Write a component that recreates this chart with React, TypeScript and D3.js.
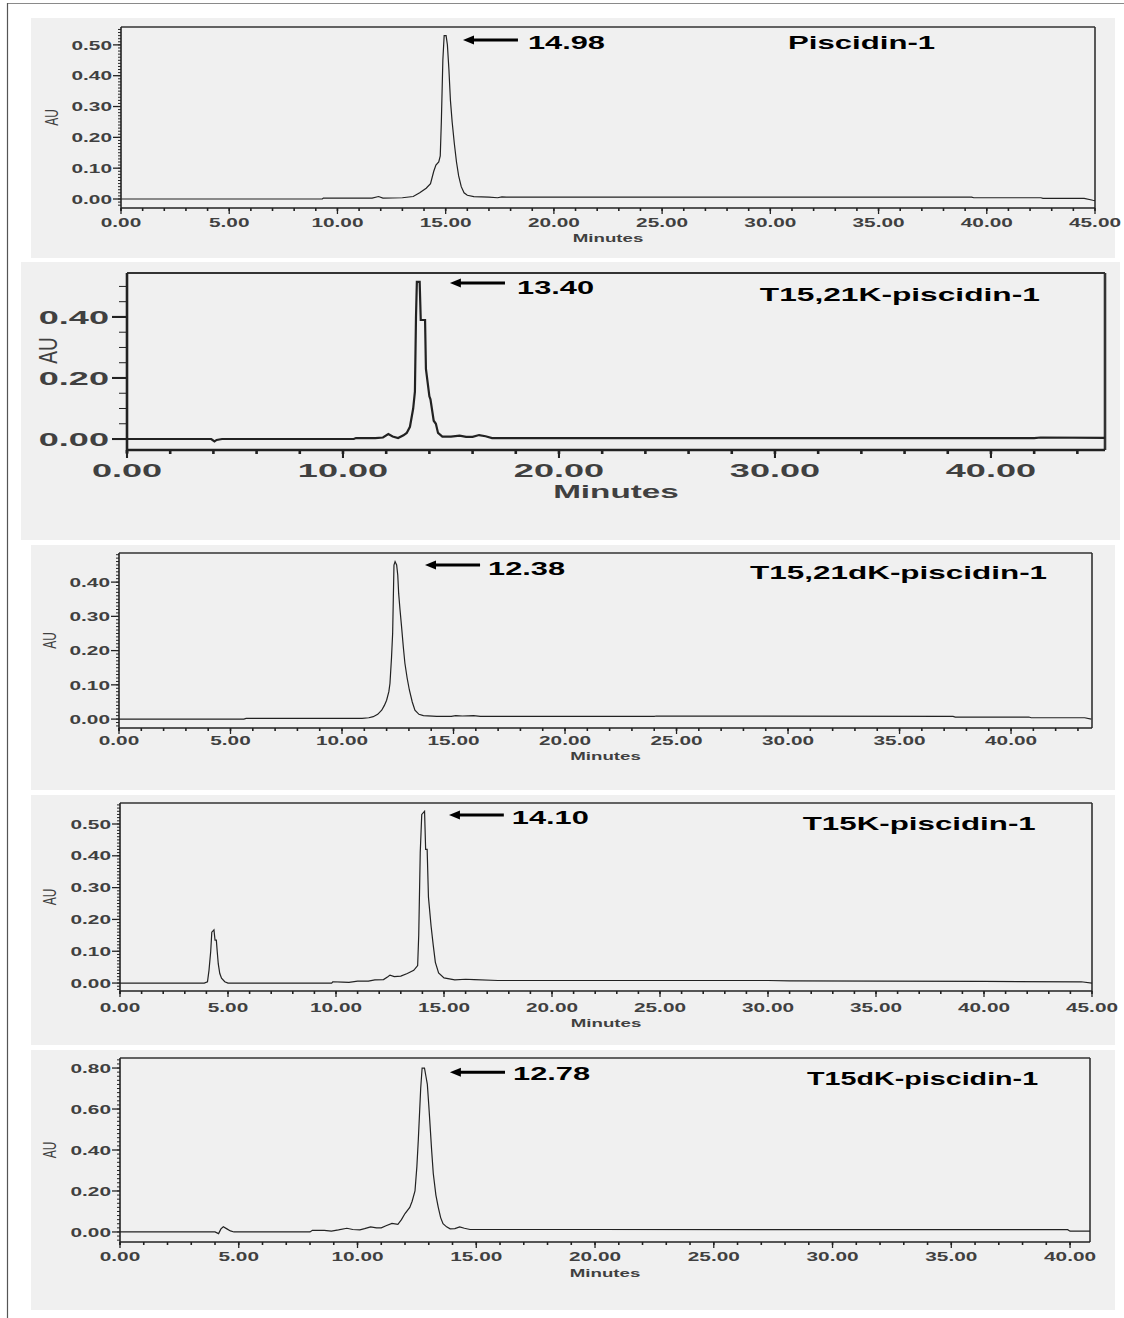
import React from "react";
import * as d3 from "d3";

type Pt = [number, number];

const titles = ["Piscidin-1", "T15,21K-piscidin-1", "T15,21dK-piscidin-1", "T15K-piscidin-1", "T15dK-piscidin-1"];
const retentionTimes = ["14.98", "13.40", "12.38", "14.10", "12.78"];
const peakTimes = [14.98, 13.40, 12.38, 14.10, 12.78];

const xTickLabels: number[][] = [
  [0, 5, 10, 15, 20, 25, 30, 35, 40, 45],
  [0, 10, 20, 30, 40],
  [0, 5, 10, 15, 20, 25, 30, 35, 40],
  [0, 5, 10, 15, 20, 25, 30, 35, 40, 45],
  [0, 5, 10, 15, 20, 25, 30, 35, 40],
];
const yTickLabels: number[][] = [
  [0, 0.1, 0.2, 0.3, 0.4, 0.5],
  [0, 0.2, 0.4],
  [0, 0.1, 0.2, 0.3, 0.4],
  [0, 0.1, 0.2, 0.3, 0.4, 0.5],
  [0, 0.2, 0.4, 0.6, 0.8],
];

const piscidin1: Pt[] = [
  [0, 0], [9.3, 0], [9.35, 0.003], [11.6, 0.003], [11.9, 0.008], [12.1, 0.003], [13.0, 0.004],
  [13.5, 0.008], [13.8, 0.02], [14.1, 0.035], [14.3, 0.05], [14.45, 0.09], [14.55, 0.11],
  [14.68, 0.12], [14.75, 0.14], [14.8, 0.25], [14.87, 0.45], [14.93, 0.53], [15.02, 0.53],
  [15.08, 0.5], [15.15, 0.42], [15.22, 0.32], [15.3, 0.25], [15.4, 0.18], [15.5, 0.12],
  [15.6, 0.075], [15.72, 0.04], [15.85, 0.02], [16.0, 0.012], [16.3, 0.008], [17.0, 0.006],
  [17.4, 0.004], [17.6, 0.007], [17.8, 0.006], [20, 0.006], [30, 0.006], [39.3, 0.006],
  [39.4, 0.004], [42.5, 0.004], [42.6, 0.002], [44.5, 0.002], [44.9, -0.004], [45, -0.005],
];

const t1521K: Pt[] = [
  [0, 0], [3.9, 0], [4.05, -0.008], [4.15, -0.003], [4.4, 0], [10.5, 0], [10.6, 0.003],
  [11.5, 0.003], [11.85, 0.005], [12.1, 0.016], [12.3, 0.008], [12.55, 0.003], [12.8, 0.012],
  [12.95, 0.02], [13.1, 0.04], [13.25, 0.1], [13.33, 0.155], [13.38, 0.4], [13.42, 0.515],
  [13.55, 0.515], [13.6, 0.39], [13.8, 0.39], [13.84, 0.23], [14.0, 0.14], [14.05, 0.13],
  [14.2, 0.06], [14.3, 0.05], [14.4, 0.02], [14.6, 0.008], [15.0, 0.008], [15.4, 0.011],
  [15.7, 0.007], [16.0, 0.007], [16.3, 0.013], [16.6, 0.009], [16.9, 0.003], [42.0, 0.003],
  [42.3, 0.005], [45.28, 0.004],
];

const t1521dK: Pt[] = [
  [0, 0], [5.6, 0], [5.7, 0.002], [10.9, 0.002], [11.2, 0.004], [11.4, 0.007], [11.6, 0.014],
  [11.78, 0.026], [11.9, 0.04], [12.0, 0.055], [12.1, 0.08], [12.15, 0.104], [12.22, 0.18],
  [12.27, 0.25], [12.3, 0.35], [12.33, 0.45], [12.38, 0.46], [12.45, 0.45], [12.5, 0.42],
  [12.54, 0.367], [12.6, 0.32], [12.67, 0.27], [12.75, 0.21], [12.82, 0.163], [12.92, 0.12],
  [13.02, 0.085], [13.15, 0.05], [13.27, 0.026], [13.45, 0.014], [13.65, 0.01], [14.25, 0.008],
  [14.9, 0.008], [15.1, 0.01], [15.4, 0.009], [15.9, 0.01], [16.2, 0.008], [24, 0.008],
  [24.1, 0.009], [37.4, 0.008], [37.5, 0.006], [40.8, 0.006], [40.9, 0.004], [43.3, 0.004],
  [43.6, 0.0],
];

const t15K: Pt[] = [
  [0, 0], [3.9, 0], [4.05, 0.004], [4.12, 0.04], [4.2, 0.1], [4.25, 0.16], [4.35, 0.167],
  [4.4, 0.135], [4.46, 0.135], [4.5, 0.1], [4.55, 0.06], [4.62, 0.03], [4.7, 0.015],
  [4.85, 0.004], [5.0, 0], [9.8, 0], [9.85, 0.004], [10.3, 0.003], [10.6, 0.002], [11.0, 0.006],
  [11.5, 0.006], [11.8, 0.01], [12.2, 0.011], [12.4, 0.02], [12.5, 0.025], [12.7, 0.02],
  [13.0, 0.022], [13.3, 0.03], [13.6, 0.04], [13.78, 0.055], [13.83, 0.15], [13.9, 0.41],
  [13.97, 0.53], [14.1, 0.54], [14.15, 0.42], [14.22, 0.42], [14.28, 0.27], [14.4, 0.18],
  [14.5, 0.12], [14.6, 0.065], [14.75, 0.032], [15.0, 0.016], [15.5, 0.01], [16.0, 0.012],
  [16.4, 0.011], [17.5, 0.008], [30, 0.008], [31, 0.007], [40, 0.005], [44.5, 0.004], [45, 0.0],
];

const t15dK: Pt[] = [
  [0, 0], [4.0, 0], [4.15, -0.008], [4.25, 0.015], [4.35, 0.025], [4.5, 0.015], [4.65, 0.005],
  [4.8, 0], [8.0, 0], [8.1, 0.008], [8.6, 0.008], [8.9, 0.004], [9.2, 0.01], [9.55, 0.018],
  [9.8, 0.012], [10.1, 0.01], [10.3, 0.016], [10.55, 0.025], [10.8, 0.02], [11.0, 0.02],
  [11.2, 0.03], [11.45, 0.042], [11.7, 0.037], [11.85, 0.06], [12.0, 0.09], [12.2, 0.12],
  [12.3, 0.15], [12.42, 0.2], [12.5, 0.32], [12.56, 0.45], [12.62, 0.6], [12.66, 0.7],
  [12.72, 0.8], [12.82, 0.8], [12.88, 0.76], [12.94, 0.72], [13.0, 0.62], [13.05, 0.53],
  [13.12, 0.4], [13.19, 0.285], [13.3, 0.18], [13.4, 0.12], [13.5, 0.07], [13.6, 0.04],
  [13.75, 0.025], [13.9, 0.015], [14.1, 0.016], [14.3, 0.025], [14.5, 0.018], [14.74, 0.012],
  [20, 0.012], [39.9, 0.011], [40.0, 0.004], [40.84, 0.004],
];

const traces: Pt[][] = [piscidin1, t1521K, t1521dK, t15K, t15dK];

// Layout / styling per panel (pixels and data-space anchors for annotations)
const layouts = [
  { bg: [31, 18, 1115, 258], plot: [121, 27, 1095, 208], xDom: [0, 45], yDom: [-0.0292, 0.558],
    xMinor: 1, yMinor: 0.01, tickFont: 13, tickSx: 1.6, minFont: 11, minSx: 1.7, auFont: 12, auSx: 1.5,
    xLabDy: 14, minDy: 30, auDx: 69, auDy: 0, yLabGap: 9, yMaj: 8, yMin: 3, xMaj: 6, xMin: 3,
    lw: 1.2, aw: 1.6, arrow: [15.8, 18.34, 0.516], rt: [18.8, 0.487], title: [30.82, 0.487], titleW: 147 },
  { bg: [21, 262, 1120, 540], plot: [127, 273, 1105, 450], xDom: [0, 45.28], yDom: [-0.036, 0.544],
    xMinor: 2, yMinor: 0.05, tickFont: 19, tickSx: 1.9, minFont: 18, minSx: 1.85, auFont: 19, auSx: 1.4,
    xLabDy: 20, minDy: 42, auDx: 80, auDy: -11, yLabGap: 18, yMaj: 15, yMin: 8, xMaj: 8, xMin: 4,
    lw: 2.2, aw: 2.6, arrow: [14.95, 17.5, 0.511], rt: [18.06, 0.475], title: [29.3, 0.452], titleW: 280 },
  { bg: [31, 545, 1115, 790], plot: [119, 553, 1092, 728], xDom: [0, 43.63], yDom: [-0.026, 0.485],
    xMinor: 1, yMinor: 0.01, tickFont: 13, tickSx: 1.6, minFont: 11, minSx: 1.7, auFont: 12, auSx: 1.5,
    xLabDy: 12, minDy: 28, auDx: 69, auDy: 0, yLabGap: 9, yMaj: 8, yMin: 3, xMaj: 6, xMin: 3,
    lw: 1.2, aw: 1.6, arrow: [13.72, 16.19, 0.45], rt: [16.55, 0.42], title: [28.3, 0.409], titleW: 297 },
  { bg: [31, 795, 1115, 1045], plot: [120, 803, 1092, 991], xDom: [0, 45], yDom: [-0.025, 0.566],
    xMinor: 1, yMinor: 0.01, tickFont: 13, tickSx: 1.6, minFont: 11, minSx: 1.7, auFont: 12, auSx: 1.5,
    xLabDy: 16, minDy: 32, auDx: 70, auDy: 0, yLabGap: 9, yMaj: 8, yMin: 3, xMaj: 6, xMin: 3,
    lw: 1.2, aw: 1.6, arrow: [15.23, 17.77, 0.528], rt: [18.14, 0.5], title: [31.61, 0.481], titleW: 233 },
  { bg: [31, 1050, 1115, 1310], plot: [120, 1058, 1090, 1242], xDom: [0, 40.84], yDom: [-0.049, 0.849],
    xMinor: 1, yMinor: 0.02, tickFont: 13, tickSx: 1.6, minFont: 11, minSx: 1.7, auFont: 12, auSx: 1.5,
    xLabDy: 14, minDy: 31, auDx: 70, auDy: 0, yLabGap: 9, yMaj: 8, yMin: 3, xMaj: 6, xMin: 3,
    lw: 1.2, aw: 1.6, arrow: [13.89, 16.21, 0.78], rt: [16.55, 0.741], title: [28.93, 0.717], titleW: 231 },
];

const FONT = "'Liberation Sans', Arial, Helvetica, sans-serif";
const BG = "#f0f0f0";
const INK = "#222";
const LABEL = "#404040";

function Panel({ i }: { i: number }) {
  const L = layouts[i];
  const [l, t, r, b] = L.plot;
  const x = d3.scaleLinear().domain(L.xDom).range([l, r]);
  const y = d3.scaleLinear().domain(L.yDom).range([b, t]);
  const line = d3.line<Pt>().x((d) => x(d[0])).y((d) => y(d[1]));
  const xMinorTicks = d3.range(0, Math.floor(L.xDom[1] / L.xMinor + 1e-6) + 1).map((k) => k * L.xMinor);
  const yMinorTicks = d3
    .range(Math.ceil(L.yDom[0] / L.yMinor - 1e-6), Math.floor(L.yDom[1] / L.yMinor + 1e-6) + 1)
    .map((k) => k * L.yMinor);
  const clipId = `clip${i}`;
  const [bx0, by0, bx1, by1] = L.bg;
  const midY = (t + b) / 2;
  const midX = (l + r) / 2;
  const ax1 = x(L.arrow[0]);
  const ax2 = x(L.arrow[1]);
  const ay = y(L.arrow[2]);
  const head = 11;
  const hw = 4.5;
  return (
    <g>
      <rect x={bx0} y={by0} width={bx1 - bx0} height={by1 - by0} fill={BG} />
      <defs>
        <clipPath id={clipId}>
          <rect x={l} y={t} width={r - l} height={b - t} />
        </clipPath>
      </defs>
      {yMinorTicks.map((v, k) => (
        <line key={"ym" + k} x1={l - L.yMin} x2={l} y1={y(v)} y2={y(v)} stroke={INK} strokeWidth={1} />
      ))}
      {yTickLabels[i].map((v, k) => (
        <g key={"yM" + k}>
          <line x1={l - L.yMaj} x2={l} y1={y(v)} y2={y(v)} stroke={INK} strokeWidth={L.aw * 0.8} />
          <text
            transform={`translate(${l - L.yLabGap},${y(v)}) scale(${L.tickSx},1)`}
            textAnchor="end"
            dy="0.36em"
            fontFamily={FONT}
            fontWeight={700}
            fontSize={L.tickFont}
            fill={LABEL}
          >
            {v.toFixed(2)}
          </text>
        </g>
      ))}
      {xMinorTicks.map((v, k) => (
        <line key={"xm" + k} x1={x(v)} x2={x(v)} y1={b} y2={b + L.xMin} stroke={INK} strokeWidth={L.aw} />
      ))}
      {xTickLabels[i].map((v, k) => (
        <g key={"xM" + k}>
          <line x1={x(v)} x2={x(v)} y1={b} y2={b + L.xMaj} stroke={INK} strokeWidth={L.aw * 0.8} />
          <text
            transform={`translate(${x(v)},${b + L.xLabDy}) scale(${L.tickSx},1)`}
            textAnchor="middle"
            dy="0.36em"
            fontFamily={FONT}
            fontWeight={700}
            fontSize={L.tickFont}
            fill={LABEL}
          >
            {v.toFixed(2)}
          </text>
        </g>
      ))}
      <line x1={l} x2={r} y1={t} y2={t} stroke="#333" strokeWidth={L.aw * 0.8} />
      <line x1={r} x2={r} y1={t} y2={b} stroke="#333" strokeWidth={L.aw} />
      <line x1={l} x2={r} y1={b} y2={b} stroke={INK} strokeWidth={L.aw} />
      <line x1={l} x2={l} y1={t} y2={b + 3} stroke={INK} strokeWidth={L.aw} />
      <path d={line(traces[i]) || ""} fill="none" stroke={INK} strokeWidth={L.lw} strokeLinejoin="miter" clipPath={`url(#${clipId})`} />
      <text
        transform={`translate(${midX},${b + L.minDy}) scale(${L.minSx},1)`}
        textAnchor="middle"
        dy="0.36em"
        fontFamily={FONT}
        fontWeight={700}
        fontSize={L.minFont}
        fill={LABEL}
      >
        Minutes
      </text>
      <text
        transform={`translate(${l - L.auDx},${midY + L.auDy}) scale(${L.auSx},1) rotate(-90)`}
        textAnchor="middle"
        dy="0.36em"
        fontFamily={FONT}
        fontSize={L.auFont}
        fill={LABEL}
      >
        AU
      </text>
      <line x1={ax1 + head - 1} x2={ax2} y1={ay} y2={ay} stroke="#000" strokeWidth={3} />
      <path d={`M${ax1},${ay} L${ax1 + head},${ay - hw} L${ax1 + head},${ay + hw} Z`} fill="#000" />
      <text
        x={x(L.rt[0])}
        y={y(L.rt[1])}
        textLength={77}
        lengthAdjust="spacingAndGlyphs"
        fontFamily={FONT}
        fontWeight={700}
        fontSize={19}
        fill="#000"
      >
        {retentionTimes[i]}
      </text>
      <text
        x={x(L.title[0])}
        y={y(L.title[1])}
        textLength={L.titleW}
        lengthAdjust="spacingAndGlyphs"
        fontFamily={FONT}
        fontWeight={700}
        fontSize={19}
        fill="#000"
      >
        {titles[i]}
      </text>
      <title>{`${titles[i]} peak at ${peakTimes[i]} min`}</title>
    </g>
  );
}

export default function App() {
  return (
    <svg
      width={1124}
      height={1318}
      viewBox="0 0 1124 1318"
      style={{ position: "absolute", left: 0, top: 0, background: "#fff" }}
    >
      <rect x={0} y={0} width={1124} height={1318} fill="#fff" />
      <line x1={7} x2={1124} y1={3.5} y2={3.5} stroke="#8a8a8a" strokeWidth={1.2} />
      <line x1={7.5} x2={7.5} y1={3} y2={1318} stroke="#555" strokeWidth={1.2} />
      {layouts.map((_, i) => (
        <Panel key={i} i={i} />
      ))}
    </svg>
  );
}
